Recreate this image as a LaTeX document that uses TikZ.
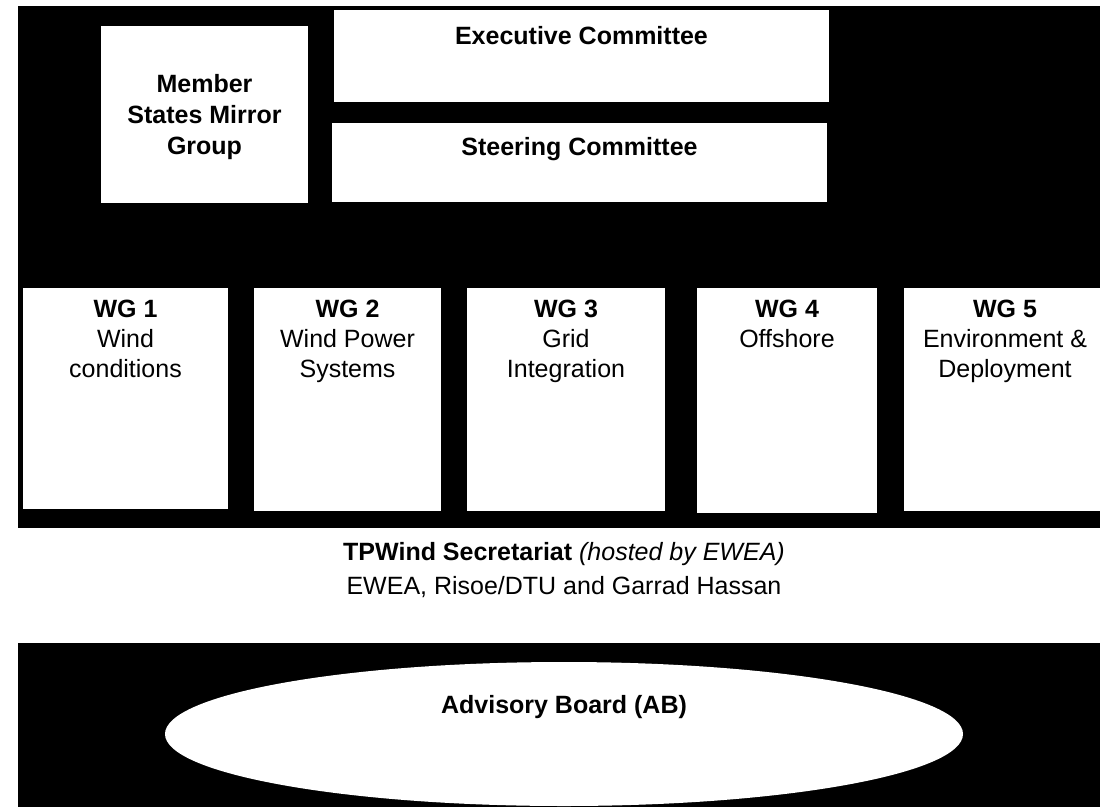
\documentclass[tikz,border=0pt]{standalone}
\usepackage{fontspec}
\setmainfont{Liberation Sans}
\usetikzlibrary{shapes.geometric}
\begin{document}
\begin{tikzpicture}[x=1pt,y=-1pt,
  box/.style={fill=white, draw=none, inner sep=0, outer sep=0, anchor=north west},
  txt/.style={inner sep=0, outer sep=0, align=center, font=\fontsize{25}{30}\selectfont},
  btxt/.style={inner sep=0, outer sep=0, align=center, font=\bfseries\fontsize{25}{30}\selectfont}
]
\useasboundingbox (0,0) rectangle (1100,806);
\clip (0,0) rectangle (1100,806);
\fill[white] (0,0) rectangle (1100,806);
\fill[black] (18,6) rectangle (1110,816);

% top row
\node[box, minimum width=207pt, minimum height=177pt] (ms) at (101,26) {};
\node[box, minimum width=495pt, minimum height=92pt] (ex) at (334,10) {};
\node[box, minimum width=495pt, minimum height=79pt] (st) at (332,123) {};

\node[btxt, anchor=north, font=\bfseries\fontsize{25}{31}\selectfont] (msT) at ([yshift=-48pt]ms.north) {Member\\States Mirror\\Group};
\node[btxt, anchor=base] (exT) at ([yshift=-34pt]ex.north) {Executive Committee};
\node[btxt, anchor=base] (stT) at ([yshift=-32pt]st.north) {Steering Committee};

% working groups
\node[box, minimum width=205pt, minimum height=221pt] (wg1) at (23,288) {};
\node[box, minimum width=187pt, minimum height=223pt] (wg2) at (254,288) {};
\node[box, minimum width=198pt, minimum height=223pt] (wg3) at (467,288) {};
\node[box, minimum width=180pt, minimum height=225pt] (wg4) at (697,288) {};
\node[box, minimum width=202pt, minimum height=223pt] (wg5) at (904,288) {};

\node[txt, anchor=north] (wg1T) at ([yshift=-12pt]wg1.north) {\textbf{WG 1}\\Wind\\conditions};
\node[txt, anchor=north] (wg2T) at ([yshift=-12pt]wg2.north) {\textbf{WG 2}\\Wind Power\\Systems};
\node[txt, anchor=north] (wg3T) at ([yshift=-12pt]wg3.north) {\textbf{WG 3}\\Grid\\Integration};
\node[txt, anchor=north] (wg4T) at ([yshift=-12pt]wg4.north) {\textbf{WG 4}\\Offshore};
\node[txt, anchor=north] (wg5T) at ([yshift=-12pt]wg5.north) {\textbf{WG 5}\\Environment \&\\Deployment};

% secretariat
\node[box, minimum width=1092pt, minimum height=115pt] (sec) at (18,528) {};
\node[txt, anchor=north, font=\fontsize{25}{34}\selectfont] (secT) at ([yshift=-14pt]sec.north)
  {\textbf{TPWind Secretariat} \textit{(hosted by EWEA)}\\EWEA, Risoe/DTU and Garrad Hassan};

% advisory board
\node[ellipse, fill=white, draw=none, inner sep=0, minimum width=798pt, minimum height=144pt] (ab) at (564,734) {};
\node[btxt, anchor=base] (abT) at (564,713) {Advisory Board (AB)};
\end{tikzpicture}
\end{document}
